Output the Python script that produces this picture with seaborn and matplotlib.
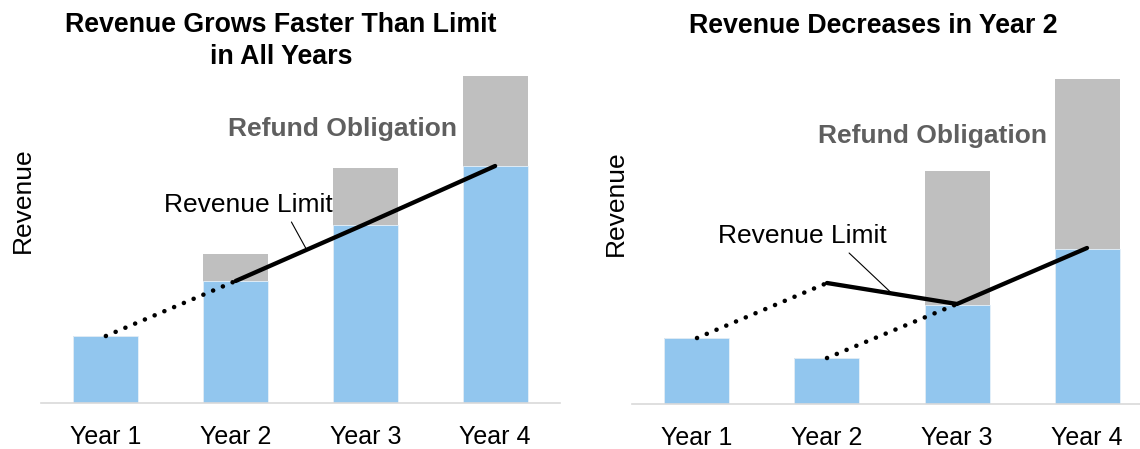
"""
Side-by-side stacked bars: recognised revenue vs refund obligation,
with the revenue limit drawn over the bars.
"""

import matplotlib
matplotlib.use('Agg')
import matplotlib.pyplot as plt
import seaborn as sns
import pandas as pd

# Data (arbitrary revenue units)
YEARS = ['Year 1', 'Year 2', 'Year 3', 'Year 4']

LEFT_REVENUE = [67, 122, 178, 237]
LEFT_TOTAL = [67, 149, 235, 327]
LEFT_LIMIT = [67, 122, 179, 237]

RIGHT_REVENUE = [66, 46, 99, 155]
RIGHT_TOTAL = [66, 46, 233, 325]
RIGHT_LIMIT = [66, 121, 100, 156]

TITLES = ['Revenue Grows Faster Than Limit\nin All Years', 'Revenue Decreases in Year 2']

BLUE = '#92C6EE'
GREY = '#BFBFBF'
REFUND_TXT = '#5F5F5F'

sns.set_theme(style='white')
plt.rcParams['font.family'] = ['Liberation Sans', 'DejaVu Sans']
plt.rcParams['text.color'] = 'black'
plt.rcParams['axes.labelcolor'] = 'black'


def draw_bars(ax, revenue, total):
    df = pd.DataFrame({'Year': YEARS, 'Revenue': revenue, 'Total': total})
    sns.barplot(data=df, x='Year', y='Total', order=YEARS, color=GREY,
                width=0.5, saturation=1, linewidth=0, ax=ax)
    sns.barplot(data=df, x='Year', y='Revenue', order=YEARS, color=BLUE,
                width=0.5, saturation=1, edgecolor='#E8F2FA', linewidth=0.6, ax=ax)


def style_axes(ax, xmax):
    ax.set_ylim(0, 340)
    ax.set_xlim(-0.5, xmax)
    ax.set_yticks([])
    ax.set_xlabel('')
    ax.set_ylabel('Revenue', fontsize=19)
    for s in ['top', 'right', 'left']:
        ax.spines[s].set_visible(False)
    ax.spines['bottom'].set_color('#D9D9D9')
    ax.spines['bottom'].set_linewidth(1.2)
    ax.tick_params(axis='x', length=0, pad=16, labelsize=18, colors='black')


fig = plt.figure(figsize=(11.4, 4.49), dpi=100)
ax1 = fig.add_axes([41 / 1140, 46 / 449, 519 / 1140, 340 / 449])
ax2 = fig.add_axes([632 / 1140, 45 / 449, 508 / 1140, 340 / 449])

dotted = dict(color='black', lw=3.3, linestyle=(0, (0.01, 2.3)),
              dash_capstyle='round', solid_capstyle='round')
solid = dict(color='black', lw=3.1, solid_capstyle='round')

# Left panel
draw_bars(ax1, LEFT_REVENUE, LEFT_TOTAL)
style_axes(ax1, 3.5)
ax1.plot([0, 1], LEFT_LIMIT[:2], **dotted)
ax1.plot([1, 2, 3], LEFT_LIMIT[1:], **solid)
ax1.text(1.10, 198, 'Revenue Limit', fontsize=19, ha='center', va='center')
ax1.plot([1.43, 1.54], [181, 155], color='black', lw=0.8)
ax1.text(1.82, 274, 'Refund Obligation', fontsize=19, fontweight='bold',
         color=REFUND_TXT, ha='center', va='center')
ax1.text(1.35, 362, TITLES[0], fontsize=19.3, fontweight='bold', ha='center',
         va='center', linespacing=1.28, clip_on=False)
ax1.yaxis.set_label_coords(-0.012, 0.597)

# Right panel
draw_bars(ax2, RIGHT_REVENUE, RIGHT_TOTAL)
style_axes(ax2, -0.5 + 508 / 130)
ax2.plot([0, 1], RIGHT_LIMIT[:2], **dotted)
ax2.plot([1, 2], [RIGHT_REVENUE[1], RIGHT_LIMIT[2]], **dotted)
ax2.plot([1, 2, 3], RIGHT_LIMIT[1:], **solid)
ax2.text(0.81, 168, 'Revenue Limit', fontsize=19, ha='center', va='center')
ax2.plot([1.17, 1.5], [151, 110.5], color='black', lw=0.8)
ax2.text(1.81, 268, 'Refund Obligation', fontsize=19, fontweight='bold',
         color=REFUND_TXT, ha='center', va='center')
ax2.text(1.36, 378, TITLES[1], fontsize=19.3, fontweight='bold', ha='center',
         va='center', clip_on=False)
ax2.yaxis.set_label_coords(-0.008, 0.59)

fig.savefig('out.png', dpi=100)
